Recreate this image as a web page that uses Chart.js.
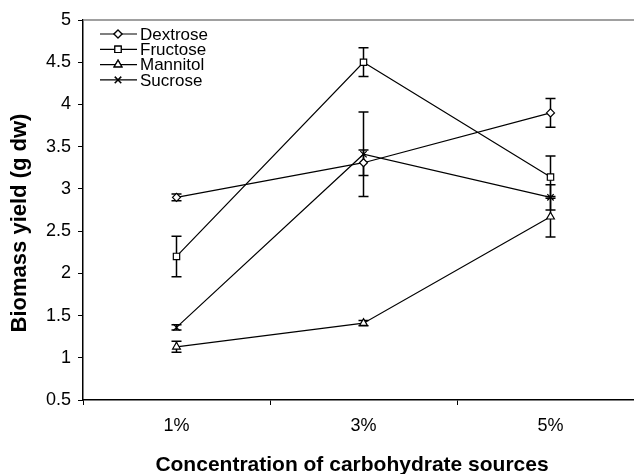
<!DOCTYPE html>
<html>
<head>
<meta charset="utf-8">
<script src="https://cdn.jsdelivr.net/npm/chart.js@4.4.0/dist/chart.umd.min.js"></script>
<style>
  html, body { margin: 0; padding: 0; overflow: hidden; background: #fff; }
  canvas { display: block; }
</style>
</head>
<body>
<canvas id="myChart" width="650" height="474"></canvas>
<script>
// data
const concentrations = ["1%", "3%", "5%"];
const dextrose = [2.9, 3.31, 3.9];
const dextroseErr = [0.04, 0.15, 0.17];
const fructose = [2.2, 4.5, 3.14];
const fructoseErr = [0.24, 0.17, 0.25];
const mannitol = [1.13, 1.41, 2.67];
const mannitolErr = [0.065, 0.03, 0.24];
const sucrose = [1.36, 3.41, 2.9];
const sucroseErr = [0.03, 0.5, 0.15];

const FONT = "'Liberation Sans', Arial, sans-serif";

function serie(label, data, errors, style, radius) {
  return {
    label: label,
    data: data,
    errors: errors,
    borderColor: "#000",
    borderWidth: 1.2,
    pointStyle: style,
    pointRadius: radius,
    pointHoverRadius: radius,
    pointBackgroundColor: "#fff",
    pointBorderColor: "#000",
    pointBorderWidth: 1.2,
    tension: 0,
  };
}

const extras = {
  id: "extras",
  beforeDatasetsDraw(chart) {
    const ctx = chart.ctx;
    const x = chart.scales.x;
    const y = chart.scales.y;
    ctx.save();
    ctx.strokeStyle = "#000";
    ctx.lineWidth = 1.5;
    chart.data.datasets.forEach((ds) => {
      ds.data.forEach((v, i) => {
        const e = ds.errors[i];
        const px = x.getPixelForValue(i);
        const top = y.getPixelForValue(v + e);
        const bot = y.getPixelForValue(v - e);
        ctx.beginPath();
        ctx.moveTo(px, top);
        ctx.lineTo(px, bot);
        ctx.moveTo(px - 5, top);
        ctx.lineTo(px + 5, top);
        ctx.moveTo(px - 5, bot);
        ctx.lineTo(px + 5, bot);
        ctx.stroke();
      });
    });
    ctx.restore();
  },
  afterDraw(chart) {
    const ctx = chart.ctx;
    const area = chart.chartArea;
    ctx.save();
    // grey top frame line
    ctx.strokeStyle = "#808080";
    ctx.lineWidth = 1.5;
    ctx.beginPath();
    ctx.moveTo(area.left, area.top);
    ctx.lineTo(chart.width, area.top);
    ctx.stroke();

    // legend inside the plot
    ctx.font = "17px " + FONT;
    ctx.textBaseline = "middle";
    ctx.fillStyle = "#000";
    chart.data.datasets.forEach((ds, i) => {
      const ly = 34 + i * 15.3;
      ctx.strokeStyle = "#000";
      ctx.lineWidth = 1.2;
      ctx.beginPath();
      ctx.moveTo(100, ly);
      ctx.lineTo(137, ly);
      ctx.stroke();
      Chart.helpers.drawPoint(ctx, {
        pointStyle: ds.pointStyle,
        radius: ds.pointRadius,
        borderWidth: 1.2,
      }, 118, ly);
      ctx.fillStyle = "#fff";
      ctx.fill();
      ctx.stroke();
      ctx.fillStyle = "#000";
      ctx.fillText(ds.label, 140, ly + 1);
    });

    // axis titles
    ctx.font = "bold 21px " + FONT;
    ctx.textAlign = "center";
    ctx.fillText("Concentration of carbohydrate sources", 352, 465);
    ctx.font = "bold 22px " + FONT;
    ctx.translate(20, 223);
    ctx.rotate(-Math.PI / 2);
    ctx.fillText("Biomass yield (g dw)", 0, 0);
    ctx.restore();
  },
};

const canvas = document.getElementById("myChart");
new Chart(canvas, {
  type: "line",
  data: {
    labels: concentrations,
    datasets: [
      serie("Dextrose", dextrose, dextroseErr, "rectRot", 4),
      serie("Fructose", fructose, fructoseErr, "rect", 4.5),
      serie("Mannitol", mannitol, mannitolErr, "triangle", 4.5),
      serie("Sucrose", sucrose, sucroseErr, "crossRot", 4.5),
    ],
  },
  options: {
    responsive: false,
    animation: false,
    devicePixelRatio: 1,
    layout: { padding: { top: 20, right: 6, left: 0, bottom: 0 } },
    plugins: {
      legend: { display: false },
      tooltip: { enabled: false },
    },
    scales: {
      x: {
        type: "category",
        offset: true,
        afterFit: (scale) => { scale.height = 74; },
        border: { color: "#000", width: 1.5 },
        grid: {
          offset: true,
          drawOnChartArea: false,
          drawTicks: true,
          tickLength: 5,
          color: "#000",
          tickWidth: 1,
        },
        ticks: {
          color: "#000",
          padding: 10,
          font: { family: FONT, size: 18 },
        },
      },
      y: {
        min: 0.5,
        max: 5,
        afterFit: (scale) => { scale.width = 83; },
        border: { color: "#000", width: 1.5 },
        grid: {
          drawOnChartArea: false,
          drawTicks: true,
          tickLength: 5,
          color: "#000",
          tickWidth: 1,
        },
        ticks: {
          stepSize: 0.5,
          color: "#000",
          padding: 7,
          font: { family: FONT, size: 18 },
          callback: (v) => String(v),
        },
      },
    },
  },
  plugins: [extras],
});
</script>
</body>
</html>
